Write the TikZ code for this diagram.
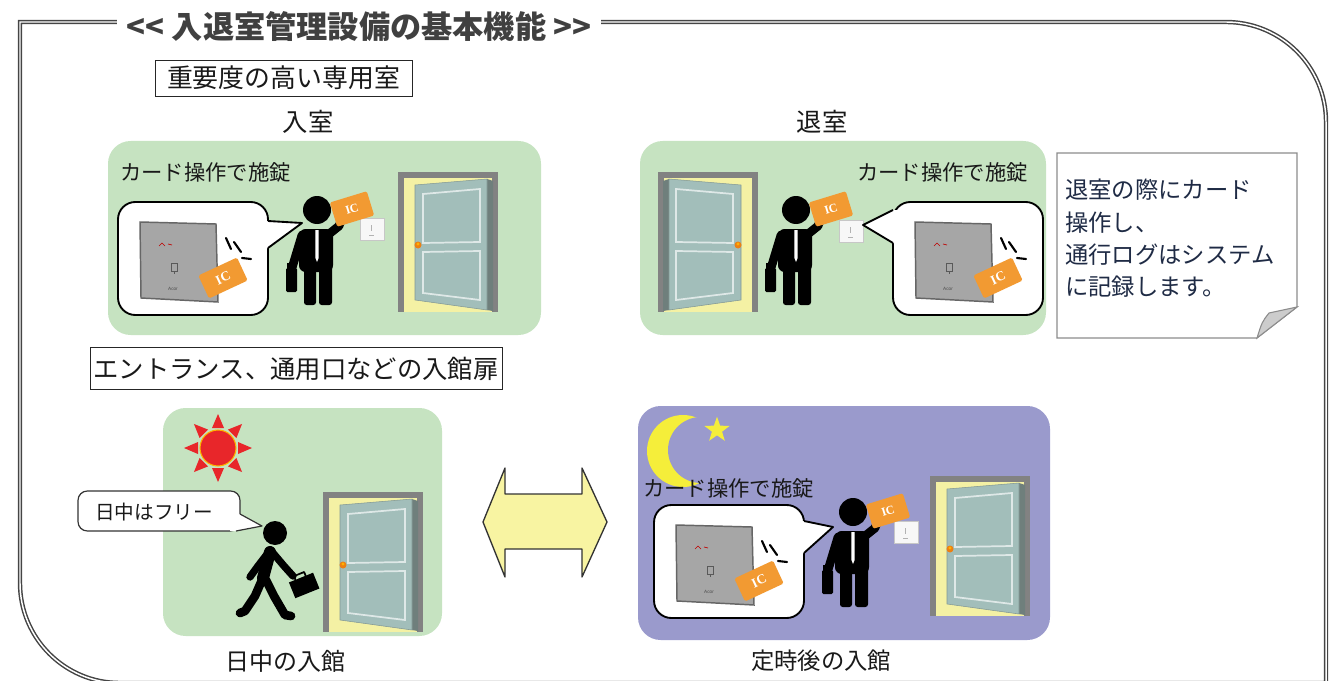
\documentclass[tikz,border=0pt]{standalone}
\usepackage{fontspec}
\setmainfont{Noto Sans CJK JP}
\newfontfamily\cardfont{Liberation Serif}
\newfontfamily\tinyfont{Liberation Sans}
\usetikzlibrary{shapes.geometric}

\definecolor{panelgreen}{HTML}{C6E3C1}
\definecolor{panelnight}{HTML}{9A9ACC}
\definecolor{framegray}{HTML}{454545}
\definecolor{doorframe}{HTML}{828282}
\definecolor{doorlight}{HTML}{F4F1A4}
\definecolor{doorleaf}{HTML}{A2BEBA}
\definecolor{dooredge}{HTML}{6F7F7C}
\definecolor{cardorange}{HTML}{F29A32}
\definecolor{readergray}{HTML}{A6A6A6}
\definecolor{notetext}{HTML}{1F2B45}
\definecolor{notegray}{HTML}{8C8C8C}
\definecolor{arrowyellow}{HTML}{F8F4A2}
\definecolor{sunred}{HTML}{E8262A}
\definecolor{moonyellow}{HTML}{F5EE3A}

\tikzset{
  frameline/.style={draw=framegray, line width=1.1pt, double=white, double distance=1.1pt},
  labelbox/.style={draw=black!85, line width=0.7pt, inner sep=0pt, text=black!90},
  caption/.style={text=black!90, inner sep=0pt},
  bubbleline/.style={draw=black, line width=1.4pt},
  tailfill/.style={fill=white, draw=none},
  iccard/.style={fill=cardorange, text=white, inner sep=0pt, rounded corners=1.2pt,
    font=\cardfont\bfseries\fontsize{9}{9}\selectfont},
  clickmark/.style={black, line width=1.6pt, line cap=round},
  % open door, hinge on the right, knob on the left
  pics/door/.style={code={
    \fill[doorframe] (0,0) rectangle (100,140);
    \fill[doorlight] (6,6) rectangle (94,140);
    \fill[dooredge] (89,7) -- (95,9) -- (95,139) -- (89,138) -- cycle;
    \filldraw[fill=doorleaf, draw=doorleaf!80!black, line width=0.4pt]
      (17,13) -- (89,7) -- (89,138) -- (17,128) -- cycle;
    \draw[white!65!doorleaf, line width=1.3pt] (25,22) -- (82,17) -- (82,70) -- (25,71) -- cycle;
    \draw[white!65!doorleaf, line width=1.3pt] (25,80) -- (82,79) -- (82,128) -- (25,121) -- cycle;
    \fill[orange!70!brown] (20,73) circle (3.5);
    \fill[orange!60!yellow] (20,72) circle (1.6);
  }},
  % card reader shown enlarged inside a speech bubble
  pics/reader/.style={code={
    \filldraw[fill=readergray, draw=black!60, line width=1.1pt] (0,0) -- (76,2) -- (78,80) -- (1,76) -- cycle;
    \draw[red!75!black, line width=0.5pt] (19,24) -- (22,21) -- (25,24) (28,22) -- (32,23);
    \draw[black!65, line width=0.5pt] (31,41) rectangle (37,49) (34,49) -- (34,52);
    \node[font=\tinyfont\fontsize{3.5}{4}\selectfont, text=black!70, inner sep=0pt] at (33,67) {Acor};
  }},
  % small reader on the wall
  pics/wallreader/.style={code={
    \filldraw[fill=white!94!gray, draw=black!22, line width=0.4pt] (-12,-11) rectangle (12,11);
    \draw[black!30, line width=0.4pt] (-1,-4) -- (-1,2) (-3,6) -- (2,6);
  }},
  % person holding a card up to the reader
  pics/person/.style={code={
    \fill[black, rounded corners=1pt] (-31,58) rectangle (-20,82);
    \draw[black, line width=1.2pt] (-29,59) -- (-29,54) -- (-22,54) -- (-22,59);
    \fill[black, rounded corners=2pt] (-13,52) rectangle (-1,95);
    \fill[black, rounded corners=2pt] (2,52) rectangle (15,95);
    \fill[black, rounded corners=5pt] (-18,19) rectangle (16,62);
    \draw[black, line width=6.5pt, line cap=round] (-15,25) -- (-25,58);
    \draw[black, line width=6.5pt, line cap=round, line join=round] (12,24) -- (22,16) -- (28,0);
    \fill[black] (0,0) circle (14);
    \fill[white] (-1.6,20) -- (1.6,20) -- (1.6,48) -- (0,52) -- (-1.6,48) -- cycle;
    \node[iccard, minimum width=29pt, minimum height=19pt, rotate=17] at (35,-1) {IC};
  }},
  % speech bubble with the enlarged reader and a card being tapped
  pics/bubble/.style={code={
    \filldraw[fill=white, bubbleline, rounded corners=13pt] (0,0) rectangle (150,113);
    \pic at (22,20) {reader};
    \draw[clickmark] (108,36) -- (113,47) (116,40) -- (123,50) (124,56) -- (133,57);
    \node[iccard, minimum width=32pt, minimum height=19pt, rotate=25,
      font=\cardfont\bfseries\fontsize{10}{10}\selectfont] at (105,76) {IC};
  }},
}

\begin{document}
\begin{tikzpicture}[x=0.75pt, y=-0.75pt]
\useasboundingbox (0,0) rectangle (1338,681);
\clip (0,0) rectangle (1338,681);

% outer frame
\draw[frameline] (1326,700) -- (1326,122) arc[start angle=0, end angle=-90, radius=100]
  -- (20,22) -- (20,583) arc[start angle=180, end angle=90, radius=100] -- (1326,683);

% heading
\node[fill=white, inner xsep=7pt, inner ysep=2pt, text=black!75,
  font=\bfseries\fontsize{23.4}{25}\selectfont] (title) at (359,27)
  {<{}< 入退室管理設備の基本機能 >{}>};

% scene backgrounds
\fill[panelgreen, rounded corners=17pt] (108,141) rectangle (541,335);
\fill[panelgreen, rounded corners=17pt] (640,141) rectangle (1046,335);
\fill[panelgreen, rounded corners=17pt] (163,408) rectangle (442,636);
\fill[panelnight, rounded corners=17pt] (638,406) rectangle (1050,640);

% captions
\node[labelbox, minimum width=192.75pt, minimum height=27pt,
  font=\fontsize{19.4}{20}\selectfont] (roomtype) at (283.5,78) {重要度の高い専用室};
\node[caption, font=\fontsize{19}{20}\selectfont] (inlabel) at (308,122) {入室};
\node[caption, font=\fontsize{19}{20}\selectfont] (outlabel) at (822,122) {退室};
\node[labelbox, minimum width=309pt, minimum height=32pt,
  font=\fontsize{19}{20}\selectfont] (entrance) at (296,368.5) {エントランス、通用口などの入館扉};
\node[caption, font=\fontsize{18}{19}\selectfont] (daylabel) at (285,661) {日中の入館};
\node[caption, font=\fontsize{17.5}{19}\selectfont] (nightlabel) at (821,661) {定時後の入館};

% ---- entering ----
\node[caption, anchor=west, font=\fontsize{16}{17}\selectfont] (lockA) at (120,172) {カード操作で施錠};
\pic at (398,172) {door};
\pic at (372,229) {wallreader};
\pic at (317,210) {person};
\pic at (118,202) {bubble};
\fill[tailfill] (262,221) -- (268,221) -- (302,223) -- (268,248) -- (262,248) -- cycle;
\draw[bubbleline, line join=round] (268,221) -- (302,223) -- (268,248);

% ---- leaving ----
\node[caption, anchor=west, font=\fontsize{16}{17}\selectfont] (lockB) at (857,172) {カード操作で施錠};
\pic[xscale=-1] at (758,172) {door};
\pic at (851,231) {wallreader};
\pic at (796,210) {person};
\pic at (893,202) {bubble};
\fill[tailfill] (899,210) -- (893,210) -- (863,225) -- (893,243) -- (899,243) -- cycle;
\draw[bubbleline, line join=round] (893,210) -- (863,225) -- (893,243);

% note with folded corner
\filldraw[fill=white, draw=notegray, line width=0.8pt]
  (1057,153) -- (1297,153) -- (1297,307) -- (1257,338) -- (1057,338) -- cycle;
\filldraw[fill=black!20, draw=notegray, line width=0.8pt]
  (1297,307) -- (1269,313) .. controls (1262,322) .. (1257,338) -- cycle;
\begin{scope}[every node/.style={anchor=base west, inner sep=0pt, text=notetext,
    font=\fontsize{17.5}{20}\selectfont}]
  \node (note1) at (1065,199) {退室の際にカード};
  \node (note2) at (1065,231) {操作し、};
  \node (note3) at (1065,263) {通行ログはシステム};
  \node (note4) at (1065,295) {に記録します。};
\end{scope}

% ---- daytime ----
\begin{scope}[shift={(218,448)}]
  \foreach \a in {0,45,...,315}
    \fill[sunred, rotate=\a] (20,-6) -- (34,0) -- (20,6) -- cycle;
  \filldraw[fill=sunred, draw=orange!60!yellow, line width=0.8pt] (0,0) circle (18);
\end{scope}
\pic at (323,492) {door};
\begin{scope}[black, line cap=round, line join=round]
  \fill (275,533) circle (12);
  \draw[line width=9pt] (270,552) -- (263,578);
  \draw[line width=5.5pt] (268,553) -- (258,566) -- (250,577);
  \draw[line width=5.5pt] (273,553) -- (284,566) -- (293,576);
  \draw[line width=6.5pt] (262,580) -- (255,596) -- (245,611) -- (240,613);
  \draw[line width=6.5pt] (266,580) -- (274,596) -- (285,615) -- (291,616);
  \fill[rotate around={22:(304,585)}] (291,577) rectangle (317,594);
  \draw[line width=1.3pt, rotate around={22:(304,585)}] (298,577) -- (298,573) -- (309,573) -- (309,577);
\end{scope}
\filldraw[fill=white, draw=black!80, line width=0.9pt, rounded corners=7pt] (78,491) rectangle (240,531);
\fill[white] (240,514) -- (262,526) -- (236,531) -- (230,531) -- (230,514) -- cycle;
\draw[black!80, line width=0.9pt, line join=round] (240,514) -- (262,526) -- (236,531);
\node[caption, font=\fontsize{14.7}{16}\selectfont] (free) at (154,512) {日中はフリー};

% ---- two-way arrow ----
\filldraw[fill=arrowyellow, draw=black!80, line width=1pt, line join=round]
  (483,522) -- (505,468) -- (505,494) -- (582,494) -- (582,468) -- (607,522)
  -- (582,577) -- (582,549) -- (505,549) -- (505,577) -- cycle;

% ---- after hours ----
\fill[moonyellow] (683,451) circle (36);
\fill[panelnight] (701,450) circle (33);
\node[star, star points=5, star point ratio=2.5, fill=moonyellow, inner sep=0pt,
  minimum size=20pt] (star) at (717,430) {};
\node[caption, anchor=west, font=\fontsize{16}{17}\selectfont] (lockC) at (643,488) {カード操作で施錠};
\pic at (930,476) {door};
\pic at (906,532) {wallreader};
\pic at (853,512) {person};
\pic at (654,505) {bubble};
\fill[tailfill] (798,521) -- (804,521) -- (833,527) -- (804,553) -- (798,553) -- cycle;
\draw[bubbleline, line join=round] (804,521) -- (833,527) -- (804,553);

\end{tikzpicture}
\end{document}
